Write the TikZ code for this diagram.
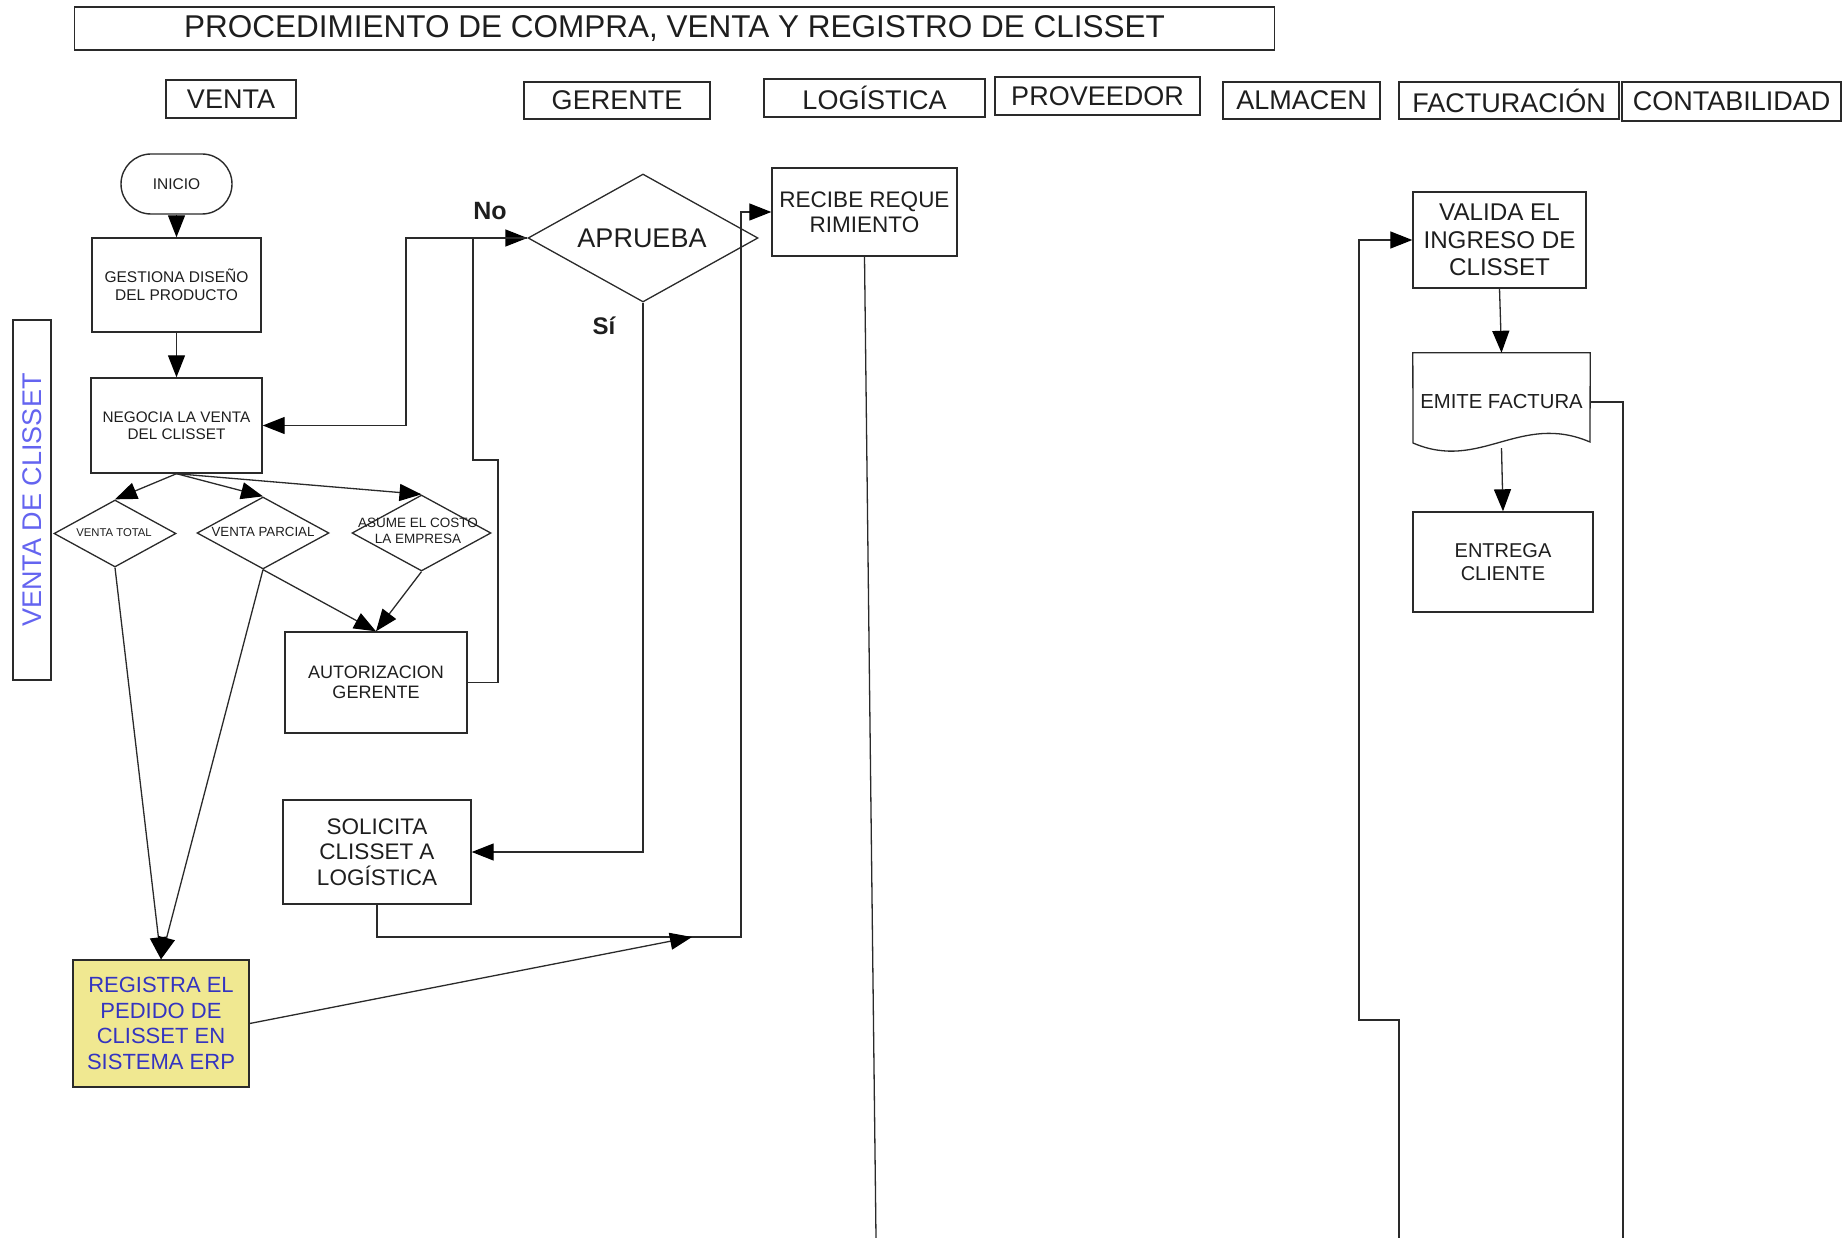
\documentclass[tikz,border=0pt]{standalone}
\usepackage{fontspec}
\setmainfont{Liberation Sans}
\usetikzlibrary{shapes.geometric,arrows.meta}
\definecolor{ln}{HTML}{2A2A2A}
\definecolor{tx}{HTML}{1E1E1E}
\definecolor{vio}{HTML}{6464F0}
\definecolor{regblue}{HTML}{3434C0}
\definecolor{regfill}{HTML}{F0E891}
\newcommand{\myfs}[2]{\fontsize{#1pt}{#2pt}\selectfont}
\begin{document}
\begin{tikzpicture}[x=1pt,y=-1pt,
  box/.style={draw=ln, line width=1.4pt, inner sep=0pt, align=center, text=tx},
  dia/.style={diamond, draw=ln, line width=1.3pt, inner sep=0pt},
  conn/.style={draw=ln, line width=1.3pt, -{Triangle[length=22pt,width=17pt,color=black]}},
  plain/.style={draw=ln, line width=1.3pt},
  lbl/.style={inner sep=0pt, align=center, text=tx},
  hdr/.style={box, font=\myfs{27}{31}}]
\useasboundingbox (0,0) rectangle (1843,1238);

% title and lane headers
\node[box, font=\myfs{31.5}{36}, minimum width=1200pt, minimum height=43pt] (title) at (674.5,28.5) {PROCEDIMIENTO DE COMPRA, VENTA Y REGISTRO DE CLISSET};
\node[hdr, minimum width=130pt, minimum height=38pt] (hventa) at (231,99) {VENTA};
\node[hdr, minimum width=186pt, minimum height=37pt] (hger) at (617,100.5) {GERENTE};
\node[hdr, minimum width=221pt, minimum height=38pt] (hlog) at (874.5,98) {LOGÍSTICA};
\node[hdr, minimum width=205pt, minimum height=38pt] (hprov) at (1097.5,96) {PROVEEDOR};
\node[hdr, minimum width=157pt, minimum height=37pt] (halm) at (1301.5,100.5) {ALMACEN};
\node[hdr, minimum width=220pt, minimum height=37pt] (hfac) at (1509,100.5) {FACTURACIÓN};
\node[hdr, minimum width=219pt, minimum height=39pt] (hcon) at (1731.5,101.5) {CONTABILIDAD};

% vertical lane label
\node[box, rotate=90, text=vio, font=\myfs{27}{31}, minimum width=360pt, minimum height=38pt] (vdc) at (32,500) {VENTA DE CLISSET};

% VENTA flow
\node[box, rounded corners=30pt, font=\myfs{15.5}{18}, minimum width=111pt, minimum height=60pt] (ini) at (176.5,184) {INICIO};
\node[box, font=\myfs{15.5}{18}, minimum width=169pt, minimum height=94pt] (gd) at (176.5,285) {GESTIONA DISEÑO\\DEL PRODUCTO};
\node[box, font=\myfs{15.3}{17.5}, minimum width=171pt, minimum height=95pt] (neg) at (176.5,425.5) {NEGOCIA LA VENTA\\DEL CLISSET};

\node[dia, minimum width=122pt, minimum height=67pt] (vt) at (115,533.5) {};
\node[lbl, font=\myfs{11.3}{13}] (vtl) at (114,533) {VENTA TOTAL};
\node[dia, minimum width=132pt, minimum height=72pt] (vp) at (263,533) {};
\node[lbl, font=\myfs{13.3}{15}] (vpl) at (263,532) {VENTA PARCIAL};
\node[dia, minimum width=139pt, minimum height=76pt] (as) at (421.5,533) {};
\node[lbl, font=\myfs{13.5}{15.5}] (asl) at (418,531) {ASUME EL COSTO\\LA EMPRESA};

\node[box, font=\myfs{18}{20.5}, minimum width=182pt, minimum height=101pt] (aut) at (376,682.5) {AUTORIZACION\\GERENTE};

\node[box, fill=regfill, text=regblue, font=\myfs{22}{25.5}, minimum width=176pt, minimum height=127pt] (reg) at (161,1023.5) {REGISTRA EL\\PEDIDO DE\\CLISSET EN\\SISTEMA ERP};

% GERENTE
\node[dia, minimum width=230pt, minimum height=128pt] (apr) at (643,238) {};
\node[lbl, font=\myfs{27}{31}] (aprl) at (642,238) {APRUEBA};
\node[lbl, font=\bfseries\myfs{25}{28}] (no) at (490,211) {No};
\node[lbl, font=\bfseries\myfs{24}{27}] (si) at (604,326) {Sí};

\node[box, font=\myfs{22.5}{25.5}, minimum width=188pt, minimum height=104pt] (sol) at (377,852) {SOLICITA\\CLISSET A\\LOGÍSTICA};

% LOGISTICA
\node[box, font=\myfs{22.5}{25}, minimum width=185pt, minimum height=88pt] (rec) at (864.5,212) {RECIBE REQUE\\RIMIENTO};

% FACTURACION
\node[box, font=\myfs{24.2}{27.5}, minimum width=173pt, minimum height=96pt] (val) at (1499.5,240) {VALIDA EL\\INGRESO DE\\CLISSET};
\node[lbl, font=\myfs{20.3}{23}, minimum width=177pt, minimum height=98pt] (ef) at (1501.5,402) {EMITE FACTURA};
\draw[plain] (1413,443) -- (ef.north west) -- (ef.north east) -- (1590,442)
  .. controls (1520,412) and (1480,472) .. (1413,443) -- cycle;
\node[box, font=\myfs{20}{22.5}, minimum width=180pt, minimum height=100pt] (ent) at (1503,562) {ENTREGA\\CLIENTE};

% free ends
\coordinate (mjoin) at (692,937);
\coordinate (recend) at (876,1238);
\coordinate (valstart) at (1399,1238);
\coordinate (efend) at (1623,1238);

% connectors
\draw[conn] (ini.south) -- (gd.north);
\draw[conn] (gd.south) -- (neg.north);
\draw[conn] (neg.south) -- (vt.north);
\draw[conn] (neg.south) -- (vp.north);
\draw[conn] (neg.south) -- (as.north);
\draw[conn] (vt.south) -- (reg.north);
\draw[conn] (vp.south) -- (reg.north);
\draw[conn] (vp.south) -- (aut.north);
\draw[conn] (as.south) -- (aut.north);
\draw[conn] (aut.east) -- (498,682.5) -- (498,460) -- (473,460) -- (473,238) -- (apr.west);
\draw[conn] (apr.west) -- (406,238) -- (406,425.5) -- (neg.east);
\draw[conn] (apr.south) -- (643,852) -- (sol.east);
\draw[conn] (sol.south) -- (377,937) -- (741,937) -- (741,212) -- (rec.west);
\draw[conn] (reg.east) -- (mjoin);
\draw[plain] (rec.south) -- (recend);
\draw[conn] (valstart) -- (1399,1020) -- (1359,1020) -- (1359,240) -- (val.west);
\draw[conn] (val.south) -- (ef.north);
\draw[conn] ([yshift=3pt]ef.south) -- (ent.north);
\draw[plain] (ef.east) -- (1623,402) -- (efend);
\end{tikzpicture}
\end{document}
